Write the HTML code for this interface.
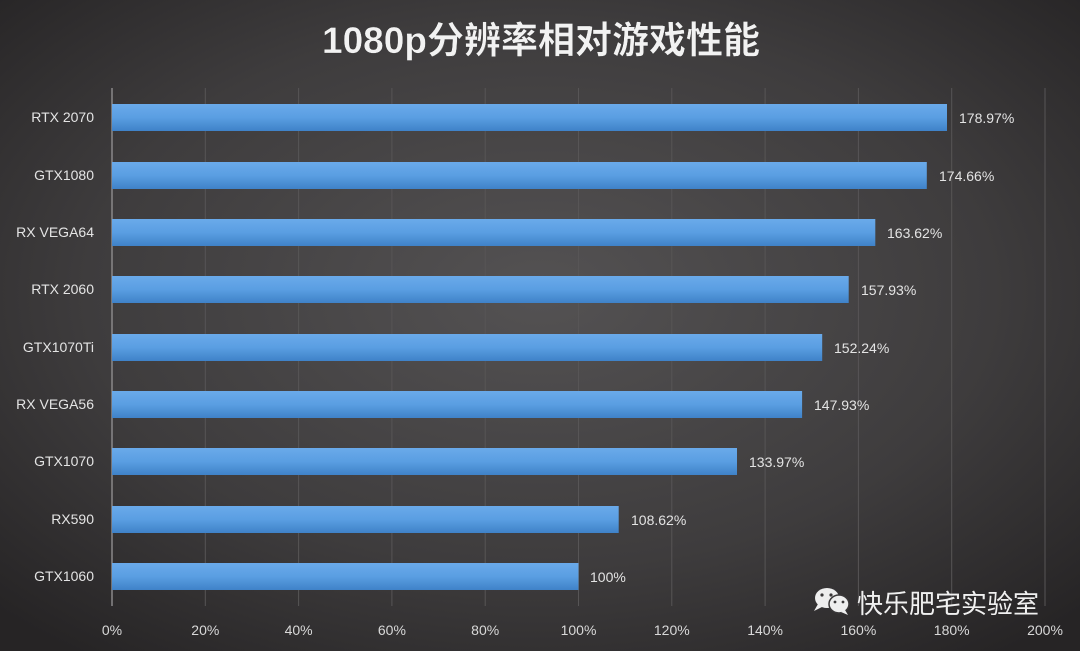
<!DOCTYPE html>
<html><head><meta charset="utf-8"><style>
html,body{margin:0;padding:0;width:1080px;height:651px;overflow:hidden;background:#3a3839;}
svg{display:block}
text{font-family:"Liberation Sans","Noto Sans CJK SC",sans-serif;}
</style></head><body>
<svg width="1080" height="651" viewBox="0 0 1080 651" xmlns="http://www.w3.org/2000/svg">
<defs>
<radialGradient id="bg" cx="50%" cy="45%" r="70%">
<stop offset="0" stop-color="#545253"/><stop offset="0.6" stop-color="#3e3c3d"/><stop offset="1" stop-color="#262425"/>
</radialGradient>
<linearGradient id="bar" x1="0" y1="0" x2="0" y2="1">
<stop offset="0" stop-color="#6aaaea"/><stop offset="0.5" stop-color="#5a9ee2"/><stop offset="1" stop-color="#3f82c8"/>
</linearGradient>
</defs>
<rect width="1080" height="651" fill="url(#bg)"/>
<text x="541" y="53" text-anchor="middle" font-size="37" font-weight="bold" fill="#f2f2f2" stroke="#222" stroke-width="0.3">1080p分辨率相对游戏性能</text>
<g stroke="#575556" stroke-width="1">
<line x1="205.3" y1="88" x2="205.3" y2="606"/><line x1="298.6" y1="88" x2="298.6" y2="606"/>
<line x1="391.9" y1="88" x2="391.9" y2="606"/><line x1="485.2" y1="88" x2="485.2" y2="606"/>
<line x1="578.5" y1="88" x2="578.5" y2="606"/><line x1="671.8" y1="88" x2="671.8" y2="606"/>
<line x1="765.1" y1="88" x2="765.1" y2="606"/><line x1="858.4" y1="88" x2="858.4" y2="606"/>
<line x1="951.7" y1="88" x2="951.7" y2="606"/><line x1="1045" y1="88" x2="1045" y2="606"/>
</g>
<line x1="112" y1="88" x2="112" y2="606" stroke="#8a8889" stroke-width="1.5"/>
<g fill="url(#bar)">
<rect x="112" y="104" width="835" height="27"/>
<rect x="112" y="162" width="814.8" height="27"/>
<rect x="112" y="219" width="763.3" height="27"/>
<rect x="112" y="276" width="736.7" height="27"/>
<rect x="112" y="334" width="710.2" height="27"/>
<rect x="112" y="391" width="690.1" height="27"/>
<rect x="112" y="448" width="625" height="27"/>
<rect x="112" y="506" width="506.7" height="27"/>
<rect x="112" y="563" width="466.5" height="27"/>
</g>
<g font-size="14" fill="#e4e4e4" text-anchor="end">
<text x="94" y="122">RTX 2070</text>
<text x="94" y="180">GTX1080</text>
<text x="94" y="237">RX VEGA64</text>
<text x="94" y="294">RTX 2060</text>
<text x="94" y="352">GTX1070Ti</text>
<text x="94" y="409">RX VEGA56</text>
<text x="94" y="466">GTX1070</text>
<text x="94" y="524">RX590</text>
<text x="94" y="581">GTX1060</text>
</g>
<g font-size="14" fill="#e4e4e4">
<text x="959" y="123">178.97%</text>
<text x="939" y="181">174.66%</text>
<text x="887" y="238">163.62%</text>
<text x="861" y="295">157.93%</text>
<text x="834" y="353">152.24%</text>
<text x="814" y="410">147.93%</text>
<text x="749" y="467">133.97%</text>
<text x="631" y="525">108.62%</text>
<text x="590" y="582">100%</text>
</g>
<g font-size="14" fill="#d8d8d8" text-anchor="middle">
<text x="112" y="635">0%</text><text x="205.3" y="635">20%</text><text x="298.6" y="635">40%</text>
<text x="391.9" y="635">60%</text><text x="485.2" y="635">80%</text><text x="578.5" y="635">100%</text>
<text x="671.8" y="635">120%</text><text x="765.1" y="635">140%</text><text x="858.4" y="635">160%</text>
<text x="951.7" y="635">180%</text><text x="1045" y="635">200%</text>
</g>
<g fill="#eeeeee">
<ellipse cx="827" cy="598" rx="12" ry="10"/>
<polygon points="818,604 814,611 824,606"/>
<ellipse cx="839" cy="604" rx="10" ry="9" stroke="#3a3839" stroke-width="1.5"/>
<polygon points="845,610 848,615 841,612"/>
</g>
<g fill="#3a3839"><circle cx="822" cy="595" r="1.6"/><circle cx="831" cy="595" r="1.6"/><circle cx="835" cy="602" r="1.4"/><circle cx="843" cy="602" r="1.4"/></g>
<text x="857" y="613" font-size="26" fill="#f0f0f0">快乐肥宅实验室</text>
</svg>
</body></html>
